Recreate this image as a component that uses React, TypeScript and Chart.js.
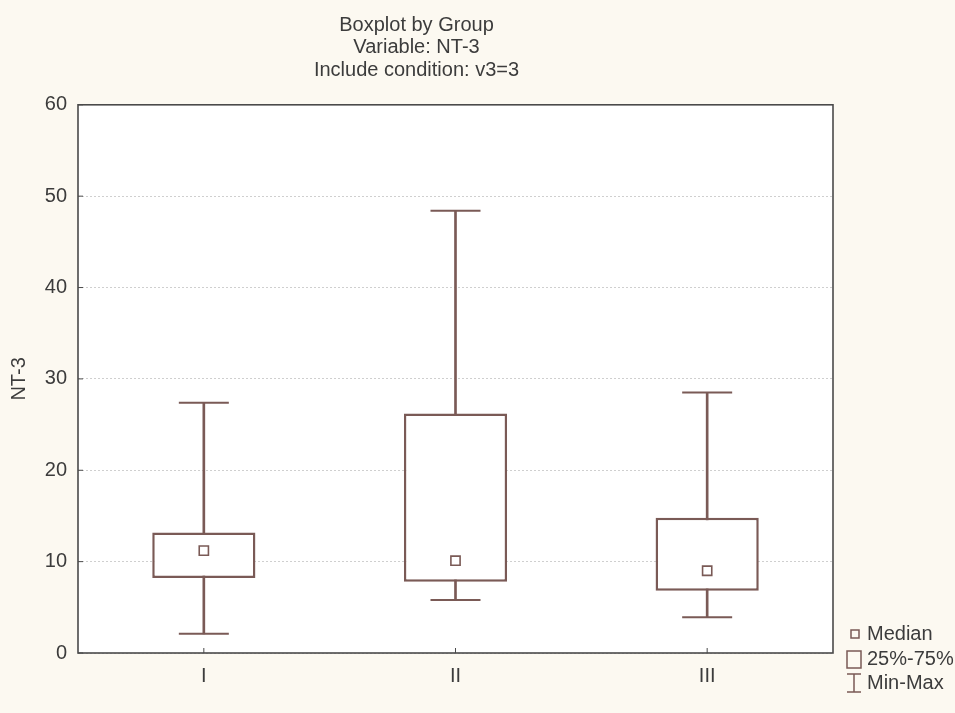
import React, { useEffect, useRef } from "react";
import { Chart, registerables } from "chart.js";

Chart.register(...registerables);

const groups = ["I", "II", "III"];
const mins = [2.1, 5.8, 3.9];
const q1s = [8.2, 7.8, 6.8];
const medians = [11.2, 10.1, 9.0];
const q3s = [13.2, 26.2, 14.8];
const maxs = [27.4, 48.4, 28.5];
const yTicks = [0, 10, 20, 30, 40, 50, 60];
const titleLines = ["Boxplot by Group", "Variable: NT-3", "Include condition: v3=3"];
const legendItems = ["Median", "25%-75%", "Min-Max"];

const LINE = "#7a5a56";
const TEXT = "#3c3c3c";
const FONT = "Liberation Sans, Arial, sans-serif";

const framePlugin = {
  id: "frame",
  beforeDraw(chart: any) {
    const { ctx, chartArea: a } = chart;
    ctx.save();
    ctx.fillStyle = "#ffffff";
    ctx.fillRect(a.left, a.top, a.right - a.left, a.bottom - a.top);
    ctx.restore();
  },
  afterDraw(chart: any) {
    const { ctx, chartArea: a } = chart;
    ctx.save();
    ctx.strokeStyle = "#4a4a4a";
    ctx.lineWidth = 1.6;
    ctx.strokeRect(a.left, a.top, a.right - a.left, a.bottom - a.top);
    const ys = chart.scales.y;
    ctx.lineWidth = 1;
    yTicks.forEach((v) => {
      const y = ys.getPixelForValue(v);
      ctx.beginPath();
      ctx.moveTo(a.left, y);
      ctx.lineTo(a.left + 5, y);
      ctx.stroke();
    });
    const xs = chart.scales.x;
    groups.forEach((_, i) => {
      const x = xs.getPixelForValue(i);
      ctx.beginPath();
      ctx.moveTo(x, a.bottom);
      ctx.lineTo(x, a.bottom - 5);
      ctx.stroke();
    });

    // legend
    const lx = a.right + 13;
    ctx.strokeStyle = LINE;
    ctx.fillStyle = TEXT;
    ctx.font = "20px " + FONT;
    ctx.textBaseline = "middle";
    ctx.textAlign = "left";
    const tx = a.right + 34;
    let y = a.bottom - 19;
    ctx.lineWidth = 1.5;
    ctx.strokeRect(lx + 5, y - 4, 8, 8);
    ctx.fillText(legendItems[0], tx, y);
    y = a.bottom + 6;
    ctx.strokeRect(lx + 1, y - 8, 14, 17);
    ctx.fillText(legendItems[1], tx, y);
    y = a.bottom + 30;
    ctx.beginPath();
    ctx.moveTo(lx + 1, y - 9);
    ctx.lineTo(lx + 15, y - 9);
    ctx.moveTo(lx + 8, y - 9);
    ctx.lineTo(lx + 8, y + 9);
    ctx.moveTo(lx + 1, y + 9);
    ctx.lineTo(lx + 15, y + 9);
    ctx.stroke();
    ctx.fillText(legendItems[2], tx, y);
    ctx.restore();
  },
};

export default function App() {
  const ref = useRef<HTMLCanvasElement>(null);
  useEffect(() => {
    document.body.style.margin = "0";
    document.body.style.background = "#fcf9f1";
    const boxData = q1s.map((q, i) => [q, q3s[i]]);
    const whiskerData = mins.map((m, i) => [m, maxs[i]]);
    const chart = new Chart(ref.current!, {
      type: "bar",
      data: {
        labels: groups,
        datasets: [
          {
            type: "line",
            label: "Median",
            data: medians,
            showLine: false,
            pointStyle: "rect",
            pointRadius: 6.5,
            pointBackgroundColor: "#ffffff",
            pointBorderColor: LINE,
            pointBorderWidth: 1.6,
            order: 0,
          } as any,
          {
            type: "line",
            label: "Max",
            data: maxs,
            showLine: false,
            pointStyle: "line",
            pointRadius: 25,
            pointBorderColor: LINE,
            pointBorderWidth: 2,
            order: 1,
          } as any,
          {
            type: "line",
            label: "Min",
            data: mins,
            showLine: false,
            pointStyle: "line",
            pointRadius: 25,
            pointBorderColor: LINE,
            pointBorderWidth: 2,
            order: 1,
          } as any,
          {
            label: "25%-75%",
            data: boxData,
            backgroundColor: "#ffffff",
            borderColor: LINE,
            borderWidth: 2.5,
            borderSkipped: false,
            grouped: false,
            barPercentage: 0.41,
            categoryPercentage: 1,
            order: 2,
          } as any,
          {
            label: "Min-Max",
            data: whiskerData,
            backgroundColor: LINE,
            borderWidth: 0,
            grouped: false,
            barThickness: 2,
            order: 3,
          } as any,
        ],
      },
      options: {
        animation: false,
        responsive: false,
        layout: { padding: { left: 0, right: 122, top: 0, bottom: 0 } },
        plugins: {
          legend: { display: false },
          tooltip: { enabled: false },
          title: {
            display: true,
            text: titleLines,
            color: TEXT,
            font: { family: FONT, size: 20, weight: "normal", lineHeight: 1.13 },
            padding: { top: 14, bottom: 23 },
          },
        },
        scales: {
          x: {
            grid: { display: false, drawTicks: false },
            border: { display: false },
            ticks: { color: TEXT, font: { family: FONT, size: 20 }, padding: 11 },
            afterFit: (s: any) => {
              s.height = 60;
            },
          },
          y: {
            min: 0,
            max: 60,
            afterBuildTicks: (s: any) => {
              s.ticks = yTicks.map((v) => ({ value: v }));
            },
            grid: { color: "#cfcfcf", lineWidth: 1, drawTicks: false },
            border: { display: false, dash: [2, 2] },
            ticks: { color: TEXT, font: { family: FONT, size: 20 }, padding: 11 },
            title: {
              display: true,
              text: "NT-3",
              color: TEXT,
              font: { family: FONT, size: 20 },
              padding: { top: 7, bottom: 0 },
            },
            afterFit: (s: any) => {
              s.width = 78;
            },
          },
        },
      },
      plugins: [framePlugin],
    });
    return () => chart.destroy();
  }, []);
  return (
    <div style={{ width: 955, height: 713 }}>
      <canvas ref={ref} width={955} height={713} style={{ display: "block" }} />
    </div>
  );
}
